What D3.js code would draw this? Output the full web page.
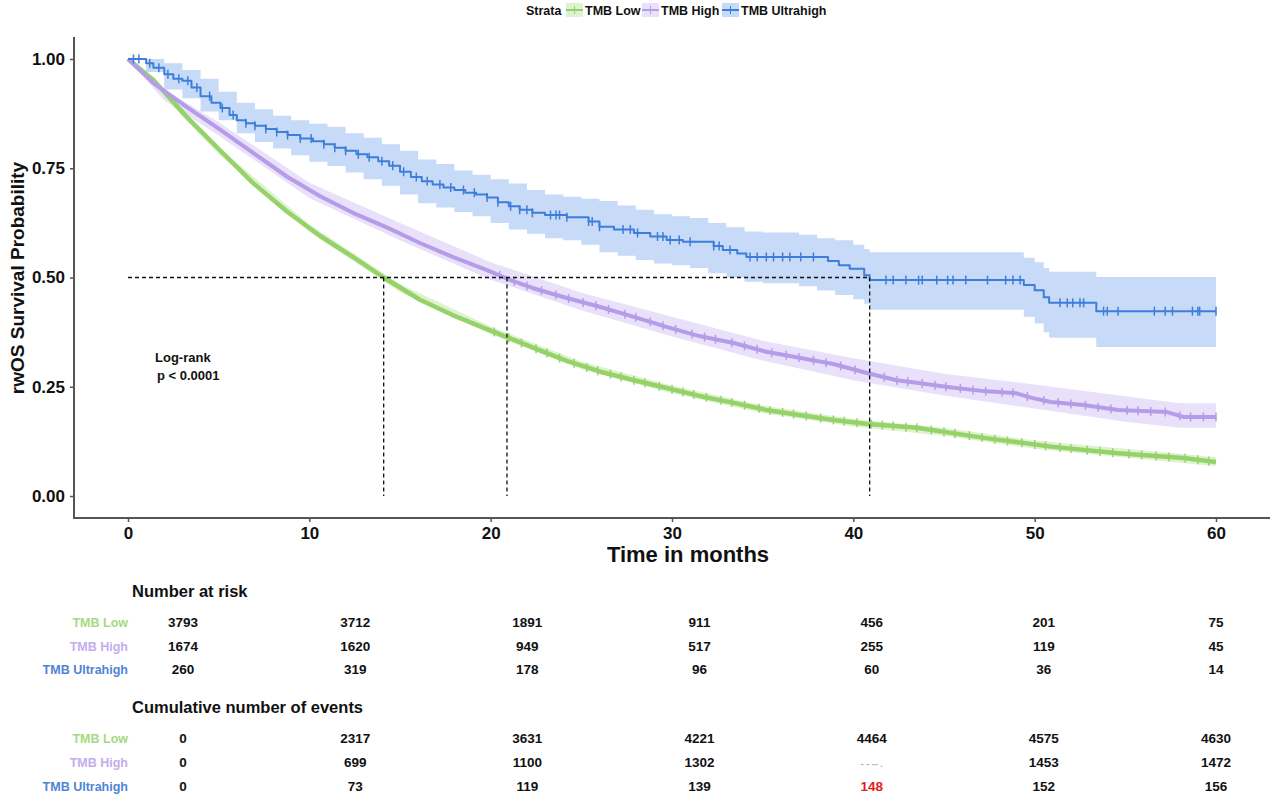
<!DOCTYPE html>
<html>
<head>
<meta charset="utf-8">
<script src="https://cdn.jsdelivr.net/npm/d3@7"></script>
<style>
  body { margin: 0; background: #fff; }
  text { font-family: "Liberation Sans", Arial, sans-serif; font-weight: bold; }
</style>
</head>
<body>
<div id="container"></div>
<script>
const width = 1280;
const height = 806;

// Kaplan-Meier estimates [months, survival]
const lowCurve = [[0,1],[1.4,0.952],[3.25,0.867],[5.1,0.79],[6.9,0.716],[8.8,0.65],[10.6,0.595],[12.4,0.547],
  [14.1,0.5],[16.1,0.449],[17.9,0.414],[19.8,0.382],[21.0,0.362],[22.3,0.34],[24.2,0.309],[26.0,0.285],
  [27.9,0.265],[29.7,0.247],[31.5,0.229],[33.4,0.213],[35.2,0.197],[37.1,0.185],[38.9,0.174],[40.8,0.165],
  [43.5,0.156],[47.2,0.133],[50.9,0.113],[54.6,0.098],[58.2,0.087],[60,0.078]];
const highCurve = [[0,1],[1.4,0.945],[3.25,0.89],[5.1,0.838],[6.9,0.785],[8.8,0.73],[10.6,0.686],[12.4,0.648],
  [14.3,0.614],[16.1,0.579],[17.9,0.547],[19.8,0.517],[21.1,0.494],[22.3,0.476],[24.2,0.453],[26.0,0.433],
  [27.9,0.41],[29.7,0.387],[31.5,0.366],[33.4,0.35],[35.2,0.33],[37.1,0.316],[38.9,0.302],[40.8,0.281],
  [42.4,0.265],[43.5,0.259],[45.3,0.249],[47.2,0.24],[49.0,0.235],[49.9,0.224],[50.9,0.215],[52.7,0.208],
  [54.6,0.197],[57.3,0.192],[58.2,0.181],[60,0.181]];
const ultraCurve = [[0,1],[0.8,1],[1.0,0.99],[1.4,0.98],[2.0,0.965],[2.5,0.955],[3.0,0.95],[3.5,0.935],[4.0,0.915],
  [4.6,0.9],[5.1,0.888],[5.6,0.872],[6.0,0.86],[6.5,0.853],[7.0,0.847],[7.6,0.84],[8.2,0.833],[8.8,0.826],
  [9.5,0.818],[10.2,0.812],[10.8,0.805],[11.4,0.797],[12.0,0.79],[12.6,0.782],[13.2,0.775],[13.8,0.766],
  [14.4,0.756],[15.0,0.742],[15.6,0.73],[16.2,0.72],[16.8,0.713],[17.4,0.706],[18.0,0.7],[18.6,0.694],
  [19.2,0.69],[19.8,0.683],[20.4,0.672],[21.0,0.663],[21.6,0.655],[22.3,0.648],[23.0,0.643],[24.2,0.638],
  [25.4,0.628],[26.0,0.616],[26.8,0.61],[27.9,0.602],[28.8,0.594],[29.7,0.586],[30.6,0.582],[32.3,0.572],
  [32.8,0.563],[33.6,0.555],[34.1,0.547],[38.6,0.538],[39.2,0.528],[39.8,0.52],[40.6,0.505],[40.9,0.494],
  [49.4,0.483],[50.0,0.471],[50.5,0.455],[50.8,0.442],[53.4,0.423],[60,0.423]];

// 95% confidence bands [months, lower, upper]
const lowBand = [[0,1,1],[5,0.782,0.798],[10,0.604,0.622],[15,0.467,0.485],[20,0.37,0.388],[25,0.29,0.308],
  [30,0.235,0.253],[35,0.19,0.207],[40,0.159,0.176],[45,0.138,0.156],[50,0.108,0.127],[55,0.088,0.108],[60,0.068,0.089]];
const highBand = [[0,1,1],[2,0.905,0.93],[5,0.825,0.855],[10,0.682,0.717],[15,0.585,0.625],[20,0.495,0.535],
  [25,0.425,0.465],[30,0.365,0.41],[35,0.31,0.355],[40,0.265,0.315],[45,0.23,0.28],[50,0.2,0.255],
  [55,0.17,0.228],[58,0.156,0.212],[60,0.156,0.212]];
const ultraBand = [[0,1,1],[1,0.97,1],[2,0.93,0.99],[3,0.91,0.975],[4,0.88,0.955],[5,0.86,0.925],[6,0.83,0.9],
  [7,0.81,0.885],[8,0.795,0.87],[9,0.78,0.86],[10,0.765,0.852],[11,0.755,0.845],[12,0.74,0.83],[13,0.725,0.82],
  [14,0.71,0.805],[15,0.69,0.79],[16,0.67,0.77],[17,0.66,0.76],[18,0.65,0.745],[19,0.64,0.735],[20,0.625,0.725],
  [21,0.61,0.715],[22,0.6,0.7],[23,0.59,0.69],[24,0.585,0.685],[25,0.575,0.68],[26,0.558,0.675],[27,0.55,0.665],
  [28,0.54,0.655],[29,0.532,0.645],[30,0.528,0.64],[31,0.522,0.636],[32,0.51,0.625],[33,0.5,0.615],[34,0.49,0.605],
  [35,0.487,0.603],[37,0.48,0.598],[38,0.47,0.59],[39,0.46,0.585],[40,0.45,0.575],[40.6,0.44,0.565],
  [40.9,0.426,0.558],[49.4,0.41,0.545],[50.0,0.395,0.535],[50.5,0.375,0.522],[50.8,0.362,0.513],
  [53.4,0.341,0.501],[60,0.341,0.501]];

// censoring times (months)
const lowCensor = [20.2,21.0,21.7,22.5,23.1,23.8,24.6,25.3,25.9,26.6,27.2,27.9,28.5,29.3,30.0,30.6,31.2,31.9,
  32.7,33.3,34.0,34.8,35.4,36.1,36.7,37.4,38.2,38.9,39.5,40.2,41.0,41.6,42.2,42.9,43.5,44.3,45.0,45.6,46.4,
  47.1,47.8,48.5,49.3,50.0,50.6,51.4,52.0,52.9,53.6,54.3,55.2,55.9,56.7,57.4,58.3,59.0,59.6];
const highCensor = [20.5,21.3,22.0,22.8,23.6,24.3,25.1,25.8,26.5,27.4,28.0,28.8,29.5,30.2,31.1,31.8,32.4,33.3,
  34.0,34.7,35.5,36.3,37.0,37.8,38.5,39.3,40.1,40.9,41.7,42.4,43.0,43.8,44.5,45.1,45.9,46.6,47.3,48.2,48.8,
  49.6,50.5,51.3,52.0,52.8,53.5,54.2,55.1,55.7,56.4,57.2,58.0,58.6,59.3,60.0];
const ultraCensor = [0.3,0.6,1.2,1.7,2.2,2.8,3.3,3.8,4.5,5.2,5.8,6.5,7.0,7.6,8.2,8.8,9.5,10.1,10.8,11.4,12.0,
  12.7,13.3,14.0,14.6,15.2,15.9,16.5,17.2,17.8,18.5,19.1,19.8,20.4,21.1,21.6,22.0,22.3,23.3,23.6,23.8,24.2,
  25.4,25.6,26.0,27.3,27.7,28.1,29.2,29.5,29.9,30.4,31.0,32.3,32.6,33.2,34.3,34.7,35.2,35.6,36.1,36.5,37.1,
  37.8,41.8,42.2,42.9,43.6,43.8,44.6,45.2,45.5,46.2,47.4,48.4,48.8,49.2,51.4,51.8,52.1,52.5,52.7,53.8,54.0,
  54.6,56.6,57.2,57.6,58.7,59.0,59.1,60.0];

const medians = [14.1, 20.9, 40.9];
const xTicks = [0, 10, 20, 30, 40, 50, 60];
const yTicks = [0, 0.25, 0.5, 0.75, 1];
const strata = ['TMB Low', 'TMB High', 'TMB Ultrahigh'];
const colors = ['#95d36a', '#b59ce9', '#3d7edb'];
const bandColors = ['#dff2cf', '#e9e0f9', '#c7daf7'];
const labelColors = ['#a6d982', '#c3aeec', '#4f84d6'];

const tableTimes = [0, 10, 20, 30, 40, 50, 60];
const riskLow = [3793, 3712, 1891, 911, 456, 201, 75];
const riskHigh = [1674, 1620, 949, 517, 255, 119, 45];
const riskUltra = [260, 319, 178, 96, 60, 36, 14];
const eventsLow = [0, 2317, 3631, 4221, 4464, 4575, 4630];
const eventsHigh = [0, 699, 1100, 1302, null, 1453, 1472];
const eventsUltra = [0, 73, 119, 139, 148, 152, 156];

const svg = d3.select('#container')
  .append('svg')
  .attr('width', width)
  .attr('height', height)
  .style('background-color', '#fff');

const x = d3.scaleLinear().domain([0, 60]).range([128, 1216]);
const y = d3.scaleLinear().domain([0, 1]).range([496, 59]);
const xt = d3.scaleLinear().domain([0, 60]).range([183, 1216]);

/* AXES */
svg.append('line').attr('x1', 74).attr('x2', 74).attr('y1', 37).attr('y2', 518)
  .attr('stroke', '#555').attr('stroke-width', 2);
svg.append('line').attr('x1', 73).attr('x2', 1270).attr('y1', 518).attr('y2', 518)
  .attr('stroke', '#555').attr('stroke-width', 2);

const yAxis = svg.append('g').attr('transform', 'translate(74,0)')
  .call(d3.axisLeft(y).tickValues(yTicks).tickFormat(d3.format('.2f')).tickSize(4).tickPadding(5));
const xAxis = svg.append('g').attr('transform', 'translate(0,518)')
  .call(d3.axisBottom(x).tickValues(xTicks).tickSize(4).tickPadding(5));
[yAxis, xAxis].forEach(a => {
  a.select('.domain').remove();
  a.selectAll('.tick line').attr('stroke', '#555').attr('stroke-width', 1.5);
  a.selectAll('.tick text').attr('fill', '#111').style('font-size', '17px')
    .style('font-family', '"Liberation Sans", Arial, sans-serif').style('font-weight', 'bold');
});

svg.append('text').attr('x', 688).attr('y', 562).attr('text-anchor', 'middle')
  .style('font-size', '22px').attr('fill', '#111').text('Time in months');
svg.append('text').attr('transform', 'translate(24,278) rotate(-90)').attr('text-anchor', 'middle')
  .style('font-size', '19px').attr('fill', '#111').text('rwOS Survival Probability');

/* BANDS AND CURVES */
const bandLinear = d3.area().x(d => x(d[0])).y0(d => y(d[1])).y1(d => y(d[2]));
const bandStep = d3.area().x(d => x(d[0])).y0(d => y(d[1])).y1(d => y(d[2])).curve(d3.curveStepAfter);
const lineLinear = d3.line().x(d => x(d[0])).y(d => y(d[1]));
const lineStep = d3.line().x(d => x(d[0])).y(d => y(d[1])).curve(d3.curveStepAfter);

svg.append('path').attr('d', bandLinear(lowBand)).attr('fill', bandColors[0]);
svg.append('path').attr('d', bandLinear(highBand)).attr('fill', bandColors[1]);
svg.append('path').attr('d', bandStep(ultraBand)).attr('fill', bandColors[2]);

function valueAt(curve, t, step) {
  let i = 0;
  while (i < curve.length - 1 && curve[i + 1][0] <= t) i++;
  if (step || i === curve.length - 1) return curve[i][1];
  const a = curve[i], b = curve[i + 1];
  return a[1] + (b[1] - a[1]) * (t - a[0]) / (b[0] - a[0]);
}

const series = [
  { curve: lowCurve, censor: lowCensor, step: false, w: 4.5 },
  { curve: highCurve, censor: highCensor, step: false, w: 4 },
  { curve: ultraCurve, censor: ultraCensor, step: true, w: 2 }
];

series.forEach((s, k) => {
  svg.append('path')
    .attr('d', (s.step ? lineStep : lineLinear)(s.curve))
    .attr('fill', 'none')
    .attr('stroke', colors[k])
    .attr('stroke-width', s.w)
    .attr('stroke-linejoin', 'round');

  svg.append('g').selectAll('line')
    .data(s.censor)
    .enter().append('line')
    .attr('x1', d => x(d)).attr('x2', d => x(d))
    .attr('y1', d => y(valueAt(s.curve, d, s.step)) - 4.5)
    .attr('y2', d => y(valueAt(s.curve, d, s.step)) + 4.5)
    .attr('stroke', colors[k])
    .attr('stroke-width', 1.5);
});

/* MEDIAN LINES */
svg.append('line')
  .attr('x1', x(0)).attr('x2', x(d3.max(medians)))
  .attr('y1', y(0.5)).attr('y2', y(0.5))
  .attr('stroke', '#111').attr('stroke-width', 1.3).attr('stroke-dasharray', '4,3');
svg.append('g').selectAll('line')
  .data(medians)
  .enter().append('line')
  .attr('x1', d => x(d)).attr('x2', d => x(d))
  .attr('y1', y(0.5)).attr('y2', y(0))
  .attr('stroke', '#111').attr('stroke-width', 1.3).attr('stroke-dasharray', '4,3');

svg.append('text').attr('x', 155).attr('y', 362).style('font-size', '13px').attr('fill', '#111').text('Log-rank');
svg.append('text').attr('x', 157).attr('y', 380).style('font-size', '13px').attr('fill', '#111').text('p < 0.0001');

/* LEGEND */
svg.append('text').attr('x', 526).attr('y', 15).style('font-size', '12.5px').attr('fill', '#111').text('Strata');
const keyX = [566, 642, 722];
strata.forEach((name, k) => {
  svg.append('rect').attr('x', keyX[k]).attr('y', 3).attr('width', 17).attr('height', 14).attr('fill', bandColors[k]);
  svg.append('line').attr('x1', keyX[k]).attr('x2', keyX[k] + 17).attr('y1', 10).attr('y2', 10)
    .attr('stroke', colors[k]).attr('stroke-width', 2);
  svg.append('line').attr('x1', keyX[k] + 8.5).attr('x2', keyX[k] + 8.5).attr('y1', 6).attr('y2', 14)
    .attr('stroke', colors[k]).attr('stroke-width', 1);
  svg.append('text').attr('x', keyX[k] + 19).attr('y', 15).style('font-size', '12.5px').attr('fill', '#111').text(name);
});

/* TABLES */
function table(title, titleY, rows, rowY) {
  svg.append('text').attr('x', 132).attr('y', titleY).style('font-size', '16.5px').attr('fill', '#111').text(title);
  rows.forEach((vals, k) => {
    svg.append('text').attr('x', 128).attr('y', rowY[k] + 5).attr('text-anchor', 'end')
      .style('font-size', '12.5px').attr('fill', labelColors[k]).text(strata[k]);
    svg.append('g').selectAll('text')
      .data(vals.map((v, i) => [tableTimes[i], v]))
      .enter().append('text')
      .attr('x', d => xt(d[0]))
      .attr('y', rowY[k] + 5)
      .attr('text-anchor', 'middle')
      .style('font-size', d => d[1] === null ? '9px' : '13.5px')
      .attr('fill', d => d[1] === null ? '#aaa' : (d[1] === 148 ? '#e0201c' : '#111'))
      .text(d => d[1] === null ? '- - -- .' : d[1]);
  });
}
table('Number at risk', 597, [riskLow, riskHigh, riskUltra], [622, 646, 669]);
table('Cumulative number of events', 713, [eventsLow, eventsHigh, eventsUltra], [738, 762, 786]);
</script>
</body>
</html>
